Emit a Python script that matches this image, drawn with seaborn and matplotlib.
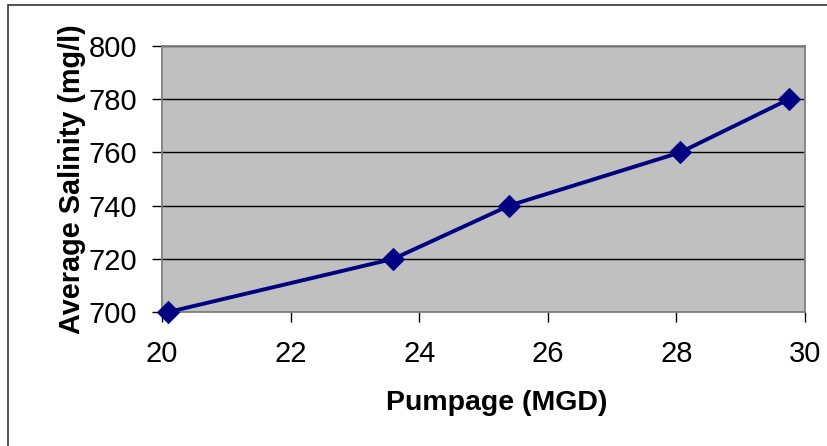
import matplotlib
matplotlib.use("Agg")
import matplotlib.pyplot as plt
import matplotlib.patches as mpatches
import seaborn as sns
import pandas as pd

# Pumpage vs. average salinity
pumpage = [20.1, 23.6, 25.4, 28.06, 29.75]
salinity = [700, 720, 740, 760, 780]
x_ticks = [20, 22, 24, 26, 28, 30]
y_ticks = [700, 720, 740, 760, 780, 800]

df = pd.DataFrame({"Pumpage": pumpage, "Salinity": salinity})

sns.set_theme(style="white")
plt.rcParams["font.family"] = ["Liberation Sans", "DejaVu Sans"]
plt.rcParams["text.color"] = "#000000"
plt.rcParams["axes.labelcolor"] = "#000000"

fig = plt.figure(figsize=(8.28, 4.46), dpi=100)
ax = fig.add_axes([162 / 828, 1 - 312 / 446, (805 - 162) / 828, (312 - 46) / 446])
ax.set_facecolor("#C0C0C0")

sns.lineplot(data=df, x="Pumpage", y="Salinity", ax=ax, color="#000080",
             linewidth=2.8, marker="D", markersize=11,
             markeredgecolor="#000080", markerfacecolor="#000080",
             clip_on=False, zorder=5)

ax.set_xlim(20, 30)
ax.set_ylim(700, 800)
ax.set_xticks(x_ticks)
ax.set_yticks(y_ticks)
ax.yaxis.grid(True, color="#000000", linewidth=1.0)
ax.xaxis.grid(False)
ax.set_axisbelow(True)

for side in ["left", "right", "top", "bottom"]:
    ax.spines[side].set_visible(True)
    ax.spines[side].set_color("#808080")
    ax.spines[side].set_linewidth(1.3)

ax.tick_params(axis="both", which="major", direction="out", length=7,
               width=1.0, color="#000000", labelsize=21, labelcolor="#000000",
               left=True, bottom=True)
ax.tick_params(axis="y", pad=11)
ax.tick_params(axis="x", pad=13)

ax.set_xlabel("Pumpage (MGD)", fontsize=20.5, fontweight="bold", labelpad=16,
              color="#000000")
ax.xaxis.label.set_x(0.521)
ax.set_ylabel("Average Salinity (mg/l)", fontsize=20.8, fontweight="bold", labelpad=2,
              color="#000000")

# Outer chart frame
frame = mpatches.Rectangle((8 / 828, -0.1), 1.2, 1 - 5 / 446 + 0.1,
                           transform=fig.transFigure, fill=False,
                           edgecolor="#333333", linewidth=1.2)
fig.patches.append(frame)

fig.savefig("out.png", dpi=100)
